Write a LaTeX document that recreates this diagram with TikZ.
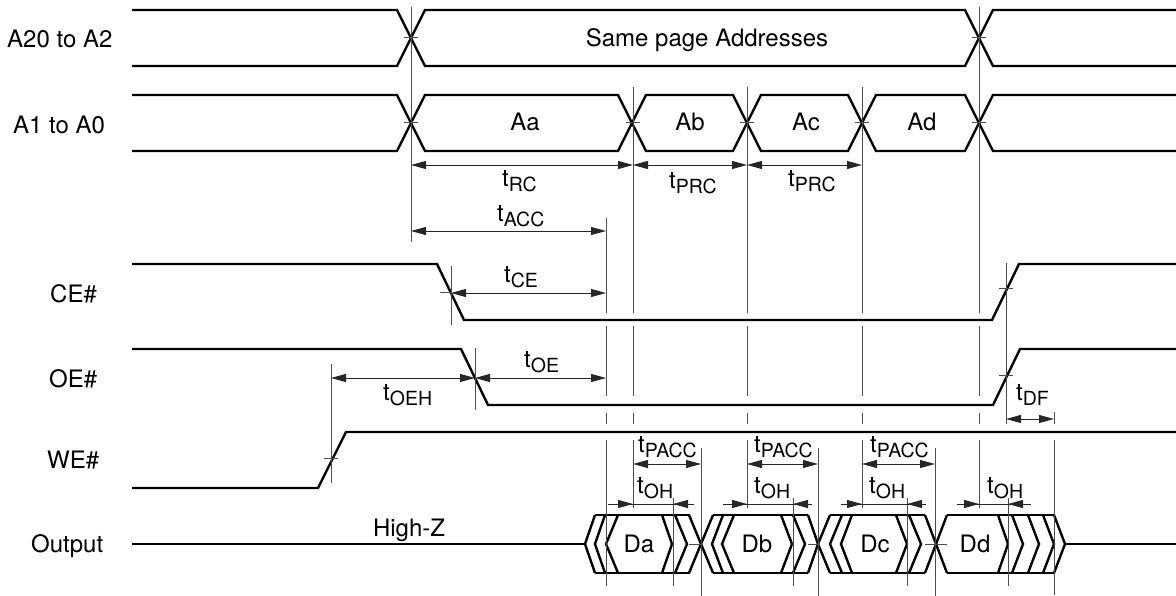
\documentclass[tikz,border=0pt]{standalone}
\usepackage{fontspec}
\setmainfont{TeX Gyre Heros}
\usetikzlibrary{arrows.meta}
\tikzset{>={Triangle[length=15pt,width=8pt]}}
\tikzset{wave/.style={line width=2.4pt, line join=miter}}
\tikzset{guide/.style={line width=1pt, black!70}}
\tikzset{dim/.style={line width=0.9pt, black!85, <->}}
\tikzset{lbl/.style={anchor=base west, inner sep=0pt, font=\fontsize{24}{26}\selectfont}}
\tikzset{val/.style={anchor=base, inner sep=0pt, font=\fontsize{24}{26}\selectfont}}
\newcommand{\tm}[1]{t\raisebox{-5pt}{\fontsize{19.5}{21}\selectfont #1}}

\begin{document}
\begin{tikzpicture}[x=1pt, y=-1pt]
\useasboundingbox (0,0) rectangle (1176,596);
% address rows
\draw[wave] (132,10) -- (397,10) -- (425,66) -- (965,66) -- (993,10) -- (1176,10);
\draw[wave] (132,66) -- (397,66) -- (425,10) -- (965,10) -- (993,66) -- (1176,66);
\draw[wave] (132,95) -- (397,95) -- (411,123) -- (397,151) -- (132,151);
\draw[wave] (1176,95) -- (993,95) -- (979,123) -- (993,151) -- (1176,151);
\foreach \a/\b in {411/632, 632/747, 747/862, 862/979}
  \draw[wave] (\a,123) -- (\a+14,95) -- (\b-14,95) -- (\b,123) -- (\b-14,151) -- (\a+14,151) -- cycle;
% control rows
\draw[wave] (132,264) -- (437,264) -- (464,320) -- (992,320) -- (1019,264) -- (1176,264);
\draw[wave] (132,349) -- (461,349) -- (488,405) -- (993,405) -- (1020,349) -- (1176,349);
\draw[wave] (132,488) -- (318,488) -- (346,432) -- (1176,432);
% output row
\draw[wave] (132,544) -- (585,544);
\draw[wave] (1065,544) -- (1176,544);
\foreach \a/\b in {595/690, 713/808, 830/925, 947/1054}
  \draw[wave] (\a,515) -- (\b,515) (\a,573) -- (\b,573);
\foreach \c/\t in {595/585, 605/595, 618/606, 713/701, 723/712, 734/722, 830/818, 842/830, 852/841, 947/936,
                   662/672, 675/687, 689/701, 781/792, 793/805, 808/818, 896/907, 909/921, 925/936,
                   998/1008, 1012/1023, 1028/1039, 1043/1054, 1054/1065}
  \draw[wave] (\c,515) -- (\t,544) -- (\c,573);
% vertical guides
\draw[guide] (411,7) -- (411,242);
\foreach \x/\ytop/\ybot in {633/87/508, 747/87/508, 862/87/508, 979/7/508, 606/218/586}
{
  \draw[guide] (\x,\ytop) -- (\x,313);
  \draw[guide] (\x,326) -- (\x,396);
  \draw[guide] (\x,413) -- (\x,424);
  \draw[guide] (\x,440) -- (\x,\ybot);
}
\draw[guide] (451,266) -- (451,325);
\draw[guide] (475,348) -- (475,410);
\draw[guide] (331,364) -- (331,483);
\draw[guide] (1006,263) -- (1006,424);
\draw[guide] (1054,412) -- (1054,424);
\draw[guide] (1054,440) -- (1054,595);
\foreach \x in {673, 793, 907, 1008}
  \draw[guide] (\x,498) -- (\x,586);
\foreach \x in {701, 818, 935}
  \draw[guide] (\x,448) -- (\x,596);
% crossing ticks
\foreach \x/\y/\w in {411/38/7, 979/38/7, 411/123/7, 633/123/7, 747/123/7, 862/123/7, 979/123/7, 1006/289/7, 1006/375/7, 331/458/7}
  \draw[guide] (\x-\w,\y) -- (\x+\w,\y);
\draw[guide] (440,293) -- (451,293);
\draw[guide] (689,544) -- (701,544);
\draw[guide] (808,544) -- (818,544);
\draw[guide] (925,544) -- (947,544);
% dimension arrows
\draw[dim] (411,165) -- (633,165);
\draw[dim] (633,165) -- (747,165);
\draw[dim] (747,165) -- (862,165);
\draw[dim] (411,231) -- (606,231);
\draw[dim] (451,293) -- (606,293);
\draw[dim] (475,378) -- (606,378);
\draw[dim] (331,378) -- (475,378);
\draw[dim] (1006,419) -- (1054,419);
\draw[dim] (633,464) -- (701,464);
\draw[dim] (747,464) -- (818,464);
\draw[dim] (862,464) -- (935,464);
\foreach \xl/\xa/\xb/\xr in {608/633/673/694, 723/747/793/812, 841/862/907/926, 957/979/1008/1031}
{
  \draw[line width=0.9pt, black!85] (\xl,504) -- (\xr,504);
  \draw[line width=0.9pt, black!85, ->] (\xa-16,504) -- (\xa,504);
  \draw[line width=0.9pt, black!85, ->] (\xb+16,504) -- (\xb,504);
}
% signal names
\node[lbl] (nameA20) at (7,48) {A20 to A2};
\node[lbl] (nameA1) at (13,134) {A1 to A0};
\node[lbl] (nameCE) at (50,302) {CE\#};
\node[lbl] (nameOE) at (49,387) {OE\#};
\node[lbl] (nameWE) at (47,468) {WE\#};
\node[lbl] (nameOut) at (31,552) {Output};
% values
\node[val] (same) at (707,47) {Same page Addresses};
\node[val] (aa) at (525,131) {Aa};
\node[val] (ab) at (690,131) {Ab};
\node[val] (ac) at (806,131) {Ac};
\node[val] (ad) at (922,131) {Ad};
\node[val] (da) at (639,552) {Da};
\node[val] (db) at (757,552) {Db};
\node[val] (dc) at (875,552) {Dc};
\node[val] (dd) at (975,552) {Dd};
\node[val] (highz) at (409,536) {High-Z};
% timing labels
\node[lbl] (tRC) at (502,187) {\tm{RC}};
\node[lbl] (tPRCa) at (669,189) {\tm{PRC}};
\node[lbl] (tPRCb) at (788,187) {\tm{PRC}};
\node[lbl] (tACC) at (497,222) {\tm{ACC}};
\node[lbl] (tCE) at (504,283) {\tm{CE}};
\node[lbl] (tOE) at (524,367) {\tm{OE}};
\node[lbl] (tOEH) at (383,400) {\tm{OEH}};
\node[lbl] (tDF) at (1016,400) {\tm{DF}};
\node[lbl] (tPACCa) at (638,452) {\tm{PACC}};
\node[lbl] (tPACCb) at (754,452) {\tm{PACC}};
\node[lbl] (tPACCc) at (870,452) {\tm{PACC}};
\node[lbl] (tOHa) at (637,493) {\tm{OH}};
\node[lbl] (tOHb) at (754,493) {\tm{OH}};
\node[lbl] (tOHc) at (869,493) {\tm{OH}};
\node[lbl] (tOHd) at (987,493) {\tm{OH}};
\end{tikzpicture}
\end{document}
